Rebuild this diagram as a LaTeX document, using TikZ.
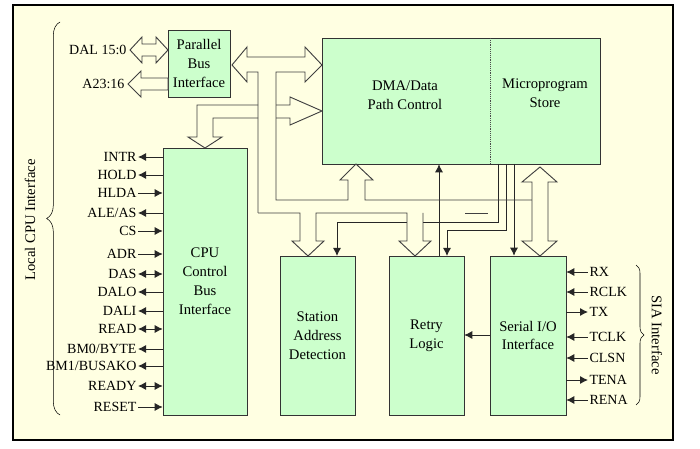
\documentclass[tikz,border=0pt]{standalone}
\usepackage{fontspec}
\setmainfont{Liberation Serif}
\usetikzlibrary{fit,arrows.meta,decorations.pathreplacing}
\definecolor{panel}{HTML}{FFFFE2}
\definecolor{block}{HTML}{CCFFCC}
\begin{document}
\begin{tikzpicture}[x=0.75pt,y=-0.75pt,
    font=\fontsize{11}{14.2}\selectfont,
    >={Latex[length=6pt,width=6pt]},
    box/.style={draw=black!80, fill=block, inner sep=0pt},
    bus/.style={draw=black!75, line width=0.7pt},
    sig/.style={draw=black!85, line width=0.7pt},
    pin/.style={font=\fontsize{10.5}{12}\selectfont, inner sep=1pt},
    txt/.style={align=center}]
  \useasboundingbox (0,0) rectangle (700,449);
  % panel
  \draw[line width=1.8pt, fill=panel] (13,5) rectangle (673,440);

  % blocks
  \node[box, fit={(168,30) (230,97)}] (pbi) {};
  \node[txt] at (pbi) {Parallel\\Bus\\Interface};
  \node[box, fit={(322,38) (600,164)}] (dma) {};
  \draw[densely dotted, black!70] (490,38) -- (490,164);
  \node[txt] at (405,95) {DMA/Data\\Path Control};
  \node[txt] at (545,93) {Microprogram\\Store};
  \node[box, fit={(163,148) (247,415)}] (cpu) {};
  \node[txt] at (205,281) {CPU\\Control\\Bus\\Interface};
  \node[box, fit={(280,256) (355,415)}] (sad) {};
  \node[txt] at (sad) {Station\\Address\\Detection};
  \node[box, fit={(389,256) (464,415)}] (retry) {};
  \node[txt] at (retry) {Retry\\Logic};
  \node[box, fit={(490,256) (566,415)}] (sio) {};
  \node[txt] at (sio) {Serial I/O\\Interface};

  % thin signals
  \coordinate (a1) at (498,164);
  \coordinate (a2) at (506,164);
  \coordinate (a3) at (514,164);
  \coordinate (a4) at (439,256);
  \draw[sig, ->] (a1) |- (337,222) -- (337,256);
  \draw[sig, ->] (a2) |- (447,230) -- (447,256);
  \draw[sig, ->] (a3) -- (a3 |- sio.north);
  \draw[sig, ->] (a4) -- (a4 |- dma.south);
  \draw[sig, ->] (sio.west |- 0,335) -- (retry.east |- 0,335);

  % external buses
  \draw[bus, fill=panel] (130,50) -- (142,37) -- (142,44) -- (156,44) -- (156,37)
    -- (168,50) -- (156,63) -- (156,56) -- (142,56) -- (142,63) -- cycle;
  \draw[bus, fill=panel] (128,84) -- (141,71) -- (141,78) -- (168,78)
    -- (168,90) -- (141,90) -- (141,97) -- cycle;
  \node[pin, anchor=east] (dal) at (128,50) {DAL 15:0};
  \node[pin, anchor=east] (addr) at (126,84) {A23:16};

  % internal bus
  \draw[bus] (258,213) -- (258,72) -- (247,72) -- (247,82) -- (232,65) -- (247,47)
    -- (247,57) -- (305,57) -- (305,47) -- (322,65) -- (305,82) -- (305,72)
    -- (276,72) -- (276,200) -- (348,200) -- (348,180) -- (340,180) -- (356,164)
    -- (373,180) -- (365,180) -- (365,200) -- (532,200);
  \draw[bus, fill=panel] (532,182) -- (522,182) -- (540,167) -- (557,182) -- (548,182)
    -- (548,241) -- (557,241) -- (540,256) -- (522,241) -- (532,241) -- cycle;
  \fill[panel] (300,213) rectangle (316,241);
  \fill[panel] (407,213) rectangle (423,241);
  \draw[bus] (258,213) -- (300,213) -- (300,241) -- (292,241) -- (308,256)
    -- (324,241) -- (316,241) -- (316,213) -- (407,213) -- (407,241) -- (399,241)
    -- (415,256) -- (431,241) -- (423,241) -- (423,213);
  \draw[bus] (465,213) -- (488,213);
  % bus to cpu and dma
  \draw[bus] (258,105) -- (197,105) -- (197,137) -- (188,137) -- (205,148)
    -- (222,137) -- (213,137) -- (213,118) -- (258,118);
  \draw[bus] (276,105) -- (290,105) -- (290,97) -- (322,111) -- (290,125)
    -- (290,118) -- (276,118);

  % cpu pins
  \foreach \lab/\yy/\tip [count=\i] in {INTR/157/<-, HOLD/175/<-,
      HLDA/193/->, ALE\slash AS/213/<-, CS/231/->, ADR/254/->,
      DAS/274/<->, DALO/292/<-, DALI/311/<-, READ/329/<->,
      BM0\slash BYTE/349/<-, BM1\slash BUSAKO/366/<-,
      READY/386/<->, RESET/407/->}
  {
    \node[pin, anchor=east] (cp\i) at (138,\yy) {\lab};
    \draw[sig, \tip] (cp\i.east) -- (cp\i.east -| cpu.west);
  }
  % sia pins
  \foreach \lab/\yy/\tip [count=\i] in {RX/272/<-, RCLK/292/<-,
      TX/312/->, TCLK/337/<-, CLSN/358/<-, TENA/380/->,
      RENA/400/<-}
  {
    \node[pin, anchor=west] (sp\i) at (588,\yy) {\lab};
    \draw[sig, \tip] (sp\i.west -| sio.east) -- (sp\i.west);
  }

  % braces
  \draw[decorate, decoration={brace, amplitude=10pt}] (60,415) -- (60,22);
  \node[rotate=90] (lci) at (30,220) {Local CPU Interface};
  \draw[decorate, decoration={brace, amplitude=6pt}] (636,265) -- (636,405);
  \node[rotate=-90] (sia) at (657,335) {SIA Interface};
\end{tikzpicture}
\end{document}
